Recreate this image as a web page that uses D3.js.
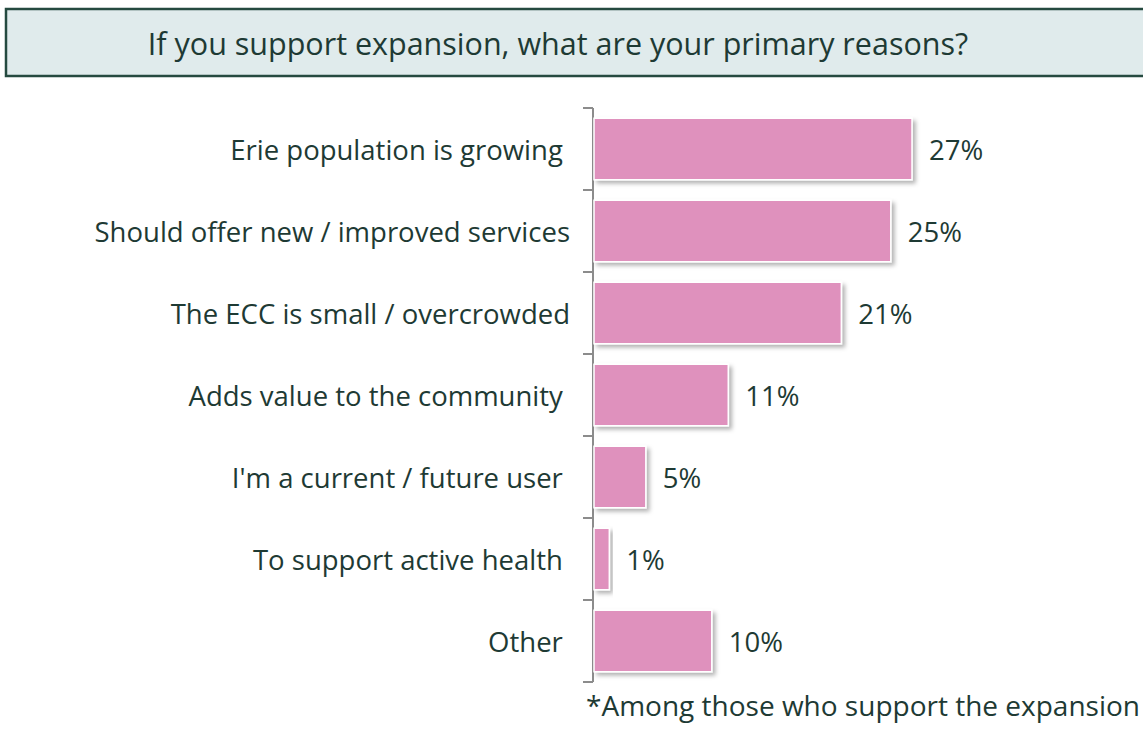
<!DOCTYPE html>
<html>
<head>
<meta charset="utf-8">
<script src="https://cdn.jsdelivr.net/npm/d3@7"></script>
<style>
  body { margin: 0; background: #fff; }
  text { font-family: 'Open Sans', 'Noto Sans', sans-serif; fill: #1e3a34; }
</style>
</head>
<body>
<script>
let page_title = 'If you support expansion, what are your primary reasons?'
let footnote = '*Among those who support the expansion'

let categories = [
    'Erie population is growing ',
    'Should offer new / improved services',
    'The ECC is small / overcrowded',
    'Adds value to the community ',
    "I'm a current / future user ",
    'To support active health ',
    'Other '
]
let values = [27, 25.2, 21, 11.4, 4.4, 1.3, 10]
let value_labels = ['27%', '25%', '21%', '11%', '5%', '1%', '10%']

let width = 1143
let height = 734
let margin = {top: 108, left: 594, bottom: 52}

let svg = d3.select('body').append('svg')
    .attr('width', width)
    .attr('height', height)

let defs = svg.append('defs')
let shadow = defs.append('filter').attr('id', 'shadow')
    .attr('x', '-10%').attr('y', '-10%').attr('width', '130%').attr('height', '140%')
shadow.append('feDropShadow')
    .attr('dx', 3).attr('dy', 3).attr('stdDeviation', 2)
    .attr('flood-color', '#000').attr('flood-opacity', 0.3)

// title box
svg.append('rect')
    .attr('x', 6).attr('y', 9)
    .attr('width', width + 10).attr('height', 67)
    .style('fill', '#e0ebec')
    .style('stroke', '#254a40')
    .style('stroke-width', 2.5)

svg.append('text')
    .attr('x', 558).attr('y', 43)
    .attr('text-anchor', 'middle')
    .attr('dominant-baseline', 'central')
    .style('font-size', '30.5px')
    .text(page_title)

let xScale = d3.scaleLinear()
    .domain([0, 27])
    .range([margin.left, 912])

let yScale = d3.scaleBand()
    .domain(categories)
    .range([margin.top, height - margin.bottom])
    .paddingInner(0.25)
    .paddingOuter(0.125)

let yAxis = d3.axisLeft(yScale).tickSize(0).tickFormat('')

let axis_g = svg.append('g')
    .attr('transform', 'translate(' + (margin.left - 1) + ',0)')
    .call(yAxis)
axis_g.select('.domain').remove()

// axis line with ticks between the bands
let step = yScale.step()
let bounds = categories.map((c, i) => yScale(c) - step * 0.125).concat([height - margin.bottom])
axis_g.append('line')
    .attr('x1', 0).attr('x2', 0)
    .attr('y1', bounds[0]).attr('y2', bounds[bounds.length - 1])
    .style('stroke', '#8c8c8c').style('stroke-width', 2)
axis_g.selectAll('.sep').data(bounds).join('line')
    .attr('class', 'sep')
    .attr('x1', -10).attr('x2', 0)
    .attr('y1', d => d).attr('y2', d => d)
    .style('stroke', '#8c8c8c').style('stroke-width', 2)

svg.append('g').selectAll('rect').data(values).join('rect')
    .attr('x', xScale(0))
    .attr('y', (d, i) => yScale(categories[i]))
    .attr('width', d => xScale(d) - xScale(0))
    .attr('height', yScale.bandwidth())
    .style('fill', '#df91bd')
    .style('stroke', '#ffffff')
    .style('stroke-width', 1.5)
    .attr('filter', 'url(#shadow)')

svg.append('g').selectAll('text').data(values).join('text')
    .attr('x', d => xScale(d) + 17)
    .attr('y', (d, i) => yScale(categories[i]) + yScale.bandwidth() / 2)
    .attr('dominant-baseline', 'central')
    .style('font-size', '27.5px')
    .text((d, i) => value_labels[i])

svg.append('g').selectAll('text').data(categories).join('text')
    .attr('x', 570)
    .attr('y', d => yScale(d) + yScale.bandwidth() / 2)
    .attr('text-anchor', 'end')
    .attr('dominant-baseline', 'central')
    .style('font-size', '27.5px')
    .style('white-space', 'pre')
    .text(d => d)

svg.append('text')
    .attr('x', 1140).attr('y', 716)
    .attr('text-anchor', 'end')
    .style('font-size', '28px')
    .text(footnote)
</script>
</body>
</html>
